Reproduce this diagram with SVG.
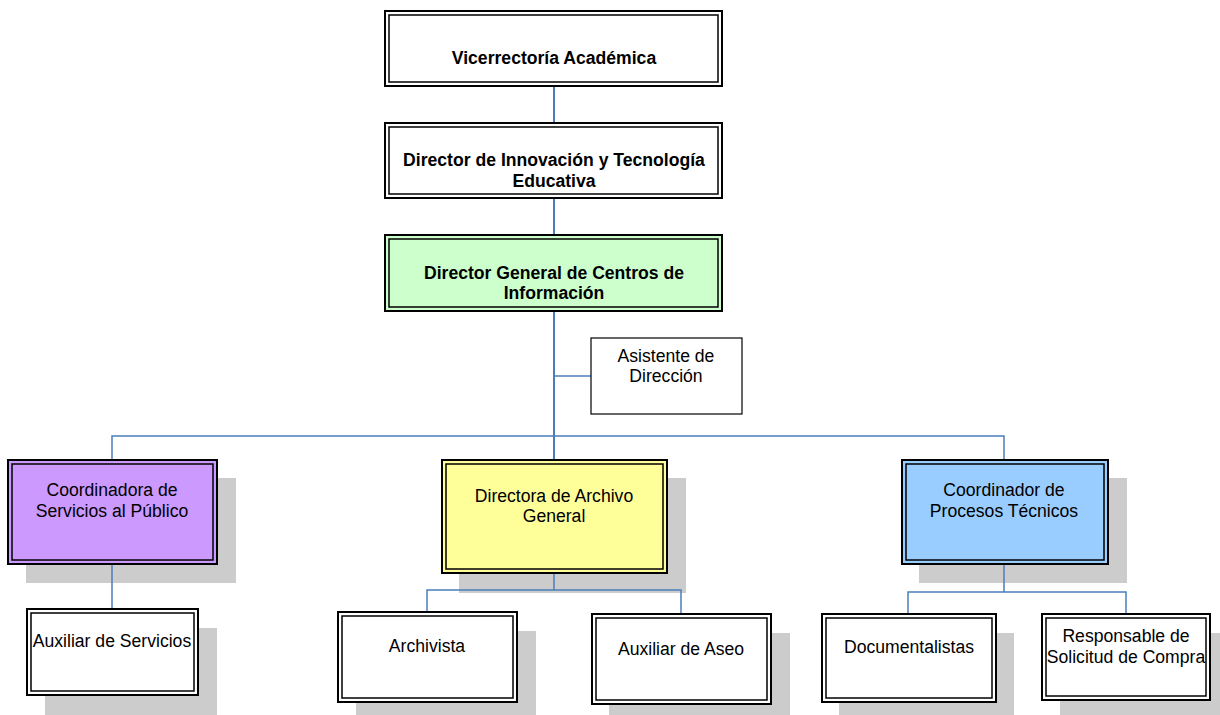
<svg xmlns="http://www.w3.org/2000/svg" width="1220" height="715" viewBox="0 0 1220 715">
  <style>
    .shadow { fill: #cccccc; }
    .outer { stroke: #000; stroke-width: 2; }
    .inner { fill: none; stroke: #000; stroke-width: 1.5; }
    .plain { fill: #fff; stroke: #000; stroke-width: 1.2; }
    .white { fill: #fff; }
    .green { fill: #ccffcc; }
    .purple { fill: #cc99ff; }
    .yellow { fill: #ffff99; }
    .blue { fill: #99ccff; }
    .link { fill: none; stroke: #4a7ebb; stroke-width: 1.5; }
    .trunk { fill: none; stroke: #4a7ebb; stroke-width: 2; }
    text { font-family: "Liberation Sans", Arial, sans-serif; font-size: 17.6px; fill: #000; text-anchor: middle; }
    .bold { font-weight: bold; }
  </style>

  <rect width="1220" height="715" fill="#fff"/>

  <!-- drop shadows behind the lower boxes -->
  <g id="shadows">
    <rect class="shadow" x="26" y="478" width="210" height="105"/>
    <rect class="shadow" x="459" y="478" width="227" height="115"/>
    <rect class="shadow" x="919" y="478" width="208" height="105"/>
    <rect class="shadow" x="45" y="628" width="172" height="87"/>
    <rect class="shadow" x="356" y="631" width="180" height="84"/>
    <rect class="shadow" x="609" y="633" width="181" height="82"/>
    <rect class="shadow" x="839" y="633" width="175" height="82"/>
    <rect class="shadow" x="1060" y="633" width="160" height="82"/>
  </g>

  <!-- connectors -->
  <g id="connectors">
    <path class="trunk" d="M554 86 V123 M554 198 V235 M554 311 V460"/>
    <path class="link" d="M554 376 H591"/>
    <path class="link" d="M112 459 V436 H1004 V460"/>
    <path class="link" d="M112 564 V609"/>
    <path class="link" d="M554 573 V590 M427 612 V590 H681 V614"/>
    <path class="link" d="M1004 564 V592 M908 614 V592 H1126 V614"/>
  </g>

  <g id="vicerrectoria">
    <rect class="outer white" x="385" y="11" width="337" height="75"/>
    <rect class="inner" x="389" y="15" width="329" height="67"/>
    <text class="bold" x="554" y="64">Vicerrectoría Académica</text>
  </g>

  <g id="director-innovacion">
    <rect class="outer white" x="385" y="123" width="337" height="75"/>
    <rect class="inner" x="389" y="127" width="329" height="67"/>
    <text class="bold" x="554" y="166">Director de Innovación y Tecnología</text>
    <text class="bold" x="554" y="187">Educativa</text>
  </g>

  <g id="director-general">
    <rect class="outer green" x="385" y="235" width="337" height="76"/>
    <rect class="inner" x="389" y="239" width="329" height="68"/>
    <text class="bold" x="554" y="279">Director General de Centros de</text>
    <text class="bold" x="554" y="299">Información</text>
  </g>

  <g id="asistente">
    <rect class="plain" x="591" y="338" width="151" height="76"/>
    <text x="666" y="362">Asistente de</text>
    <text x="666" y="382">Dirección</text>
  </g>

  <g id="coordinadora-servicios">
    <rect class="outer purple" x="8" y="460" width="209" height="104"/>
    <rect class="inner" x="12" y="464" width="201" height="96"/>
    <text x="112" y="496">Coordinadora de</text>
    <text x="112" y="517">Servicios al Público</text>
  </g>

  <g id="directora-archivo">
    <rect class="outer yellow" x="442" y="460" width="225" height="113"/>
    <rect class="inner" x="446" y="464" width="217" height="105"/>
    <text x="554" y="502">Directora de Archivo</text>
    <text x="554" y="522">General</text>
  </g>

  <g id="coordinador-procesos">
    <rect class="outer blue" x="902" y="460" width="206" height="104"/>
    <rect class="inner" x="906" y="464" width="198" height="96"/>
    <text x="1004" y="496">Coordinador de</text>
    <text x="1004" y="517">Procesos Técnicos</text>
  </g>

  <g id="auxiliar-servicios">
    <rect class="outer white" x="27" y="609" width="171" height="86"/>
    <rect class="inner" x="31" y="613" width="163" height="78"/>
    <text x="112" y="647">Auxiliar de Servicios</text>
  </g>

  <g id="archivista">
    <rect class="outer white" x="338" y="612" width="179" height="90"/>
    <rect class="inner" x="342" y="616" width="171" height="82"/>
    <text x="427" y="652">Archivista</text>
  </g>

  <g id="auxiliar-aseo">
    <rect class="outer white" x="592" y="614" width="179" height="90"/>
    <rect class="inner" x="596" y="618" width="171" height="82"/>
    <text x="681" y="655">Auxiliar de Aseo</text>
  </g>

  <g id="documentalistas">
    <rect class="outer white" x="822" y="614" width="174" height="88"/>
    <rect class="inner" x="826" y="618" width="166" height="80"/>
    <text x="909" y="653">Documentalistas</text>
  </g>

  <g id="responsable-compra">
    <rect class="outer white" x="1042" y="614" width="168" height="86"/>
    <rect class="inner" x="1046" y="618" width="160" height="78"/>
    <text x="1126" y="642">Responsable de</text>
    <text x="1126" y="663">Solicitud de Compra</text>
  </g>
</svg>
